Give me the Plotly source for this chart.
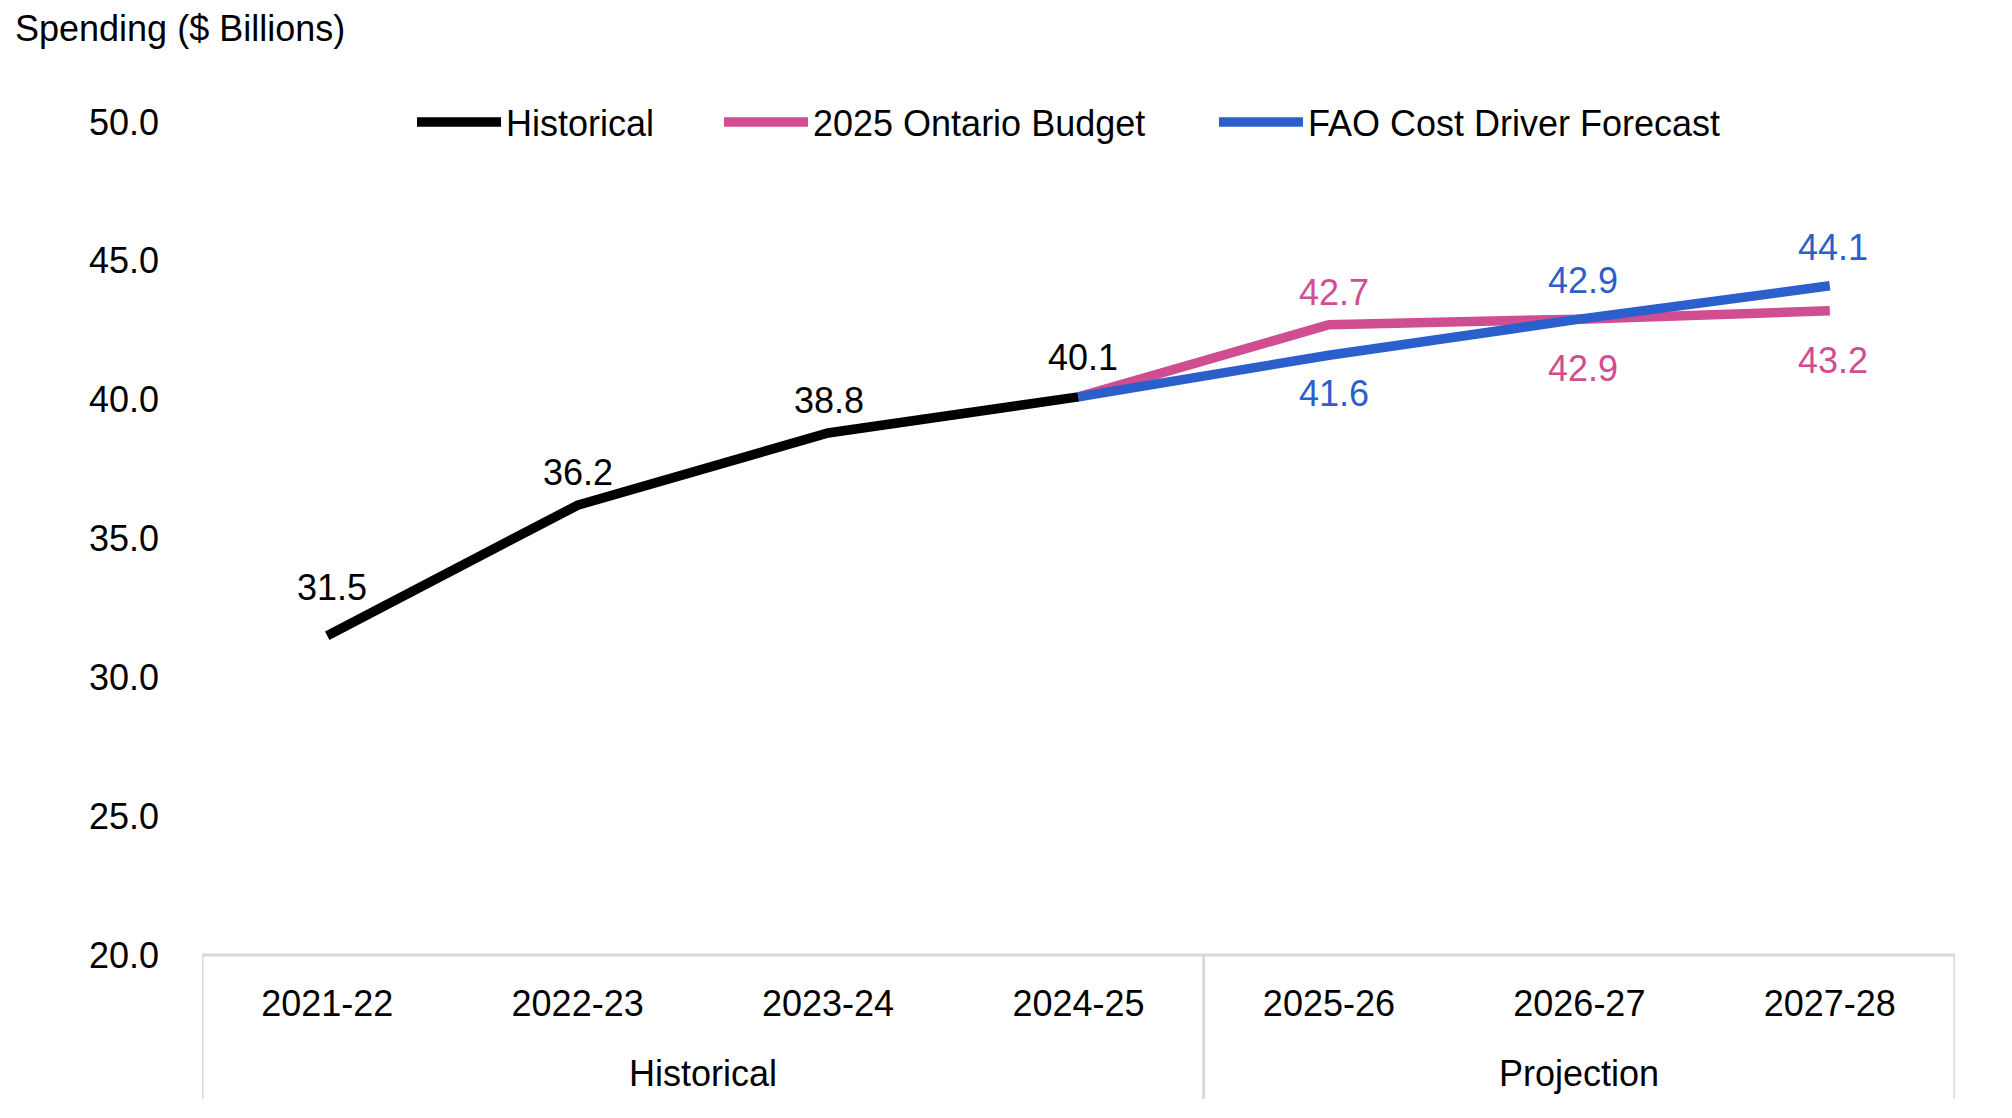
import plotly.graph_objects as go

categories = ["2021-22", "2022-23", "2023-24", "2024-25", "2025-26", "2026-27", "2027-28"]
historical = [31.5, 36.2, 38.8, 40.1, None, None, None]
budget = [None, None, None, 40.1, 42.7, 42.9, 43.2]
fao = [None, None, None, 40.1, 41.6, 42.9, 44.1]
groups = ["Historical", "Projection"]
group_spans = [(0, 3), (4, 6)]
y_ticks = [20, 25, 30, 35, 40, 45, 50]

BLACK = "#000000"
PINK = "#D14D91"
BLUE = "#2B5FCC"
GRID = "#D9D9D9"
FONT = "Liberation Sans, Arial, sans-serif"
FS = 36

# page offset of the plot div (browser body margin)
OFF = 8
W, H = 2012 - OFF, 1118 - OFF
L, R, T = 202 - OFF, 57, 122 - OFF
PLOT_H = 833
B = H - T - PLOT_H
PLOT_W = W - L - R

fig = go.Figure()
series = [
    ("Historical", historical, BLACK, "legend"),
    ("2025 Ontario Budget", budget, PINK, "legend2"),
    ("FAO Cost Driver Forecast", fao, BLUE, "legend3"),
]
for name, vals, col, lg in series:
    fig.add_trace(go.Scatter(
        x=categories, y=vals, name=name, mode="lines",
        line=dict(color=col, width=9.5), connectgaps=False,
        legend=lg, hoverinfo="skip",
    ))

# data labels: (series values, color, indexes, vertical pixel offset)
label_specs = [
    (historical, BLACK, [0, 1, 2, 3], [48, 33, 32, 39]),
    (budget, PINK, [4, 5, 6], [32, -49, -50]),
    (fao, BLUE, [4, 5, 6], [-38, 39, 38]),
]
x_shift = {0: 5, 1: 0, 2: 1, 3: 4, 4: 5, 5: 4, 6: 3}
for vals, col, idxs, offs in label_specs:
    for i, off in zip(idxs, offs):
        fig.add_annotation(
            x=categories[i], y=vals[i], xref="x", yref="y",
            text=f"{vals[i]:.1f}", showarrow=False,
            yshift=off, xshift=x_shift[i],
            font=dict(family=FONT, size=FS, color=col),
            xanchor="center", yanchor="middle",
        )

# group labels under the category axis
for g, (a, b) in zip(groups, group_spans):
    fig.add_annotation(
        x=(a + b) / 2, y=0, xref="x", yref="paper",
        text=g, showarrow=False, yshift=-118,
        font=dict(family=FONT, size=FS, color=BLACK),
        xanchor="center", yanchor="middle",
    )

# category axis frame (multi-level look)
drop = -(144 / PLOT_H)
fig.add_shape(type="line", xref="paper", yref="paper", x0=0, x1=1, y0=0, y1=0,
              line=dict(color=GRID, width=3))
n = len(categories)
for xv in [-0.5, group_spans[0][1] + 0.5, n - 0.5]:
    fig.add_shape(type="line", xref="x", yref="paper", x0=xv, x1=xv, y0=0, y1=drop,
                  line=dict(color=GRID, width=3))

fig.update_layout(
    width=W, height=H,
    margin=dict(l=L, r=R, t=T, b=B, autoexpand=False),
    paper_bgcolor="white", plot_bgcolor="white",
    font=dict(family=FONT, size=FS, color=BLACK),
    title=dict(text="Spending ($ Billions)", x=(15 - OFF) / W, xanchor="left",
               y=1 - (28 - OFF) / H, yanchor="middle",
               font=dict(family=FONT, size=FS, color=BLACK)),
    xaxis=dict(type="category", categoryorder="array", categoryarray=categories,
               range=[-0.5, n - 0.5], showgrid=False, zeroline=False, showline=False,
               ticks="", ticklabelstandoff=24,
               tickfont=dict(family=FONT, size=FS, color=BLACK)),
    yaxis=dict(range=[20, 50], tickvals=y_ticks, tickformat=".1f", showgrid=False,
               zeroline=False, showline=False, ticks="", ticklabelstandoff=42,
               tickfont=dict(family=FONT, size=FS, color=BLACK)),
    showlegend=True,
)
leg_common = dict(orientation="h", yanchor="middle", y=1.0, xanchor="left",
                  itemwidth=84, bgcolor="rgba(0,0,0,0)",
                  font=dict(family=FONT, size=FS, color=BLACK))
fig.update_layout(
    legend=dict(x=(412 - 202) / PLOT_W, **leg_common),
    legend2=dict(x=(719 - 202) / PLOT_W, **leg_common),
    legend3=dict(x=(1214 - 202) / PLOT_W, **leg_common),
)

fig.write_html("out.html")
